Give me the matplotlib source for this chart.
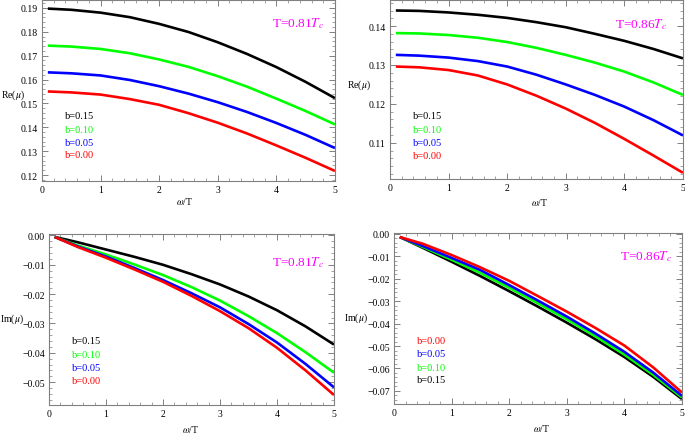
import numpy as np
import matplotlib
matplotlib.use("Agg")
import matplotlib.pyplot as plt
from matplotlib.ticker import MultipleLocator, FuncFormatter

plt.rcParams['font.family'] = ['Liberation Serif', 'DejaVu Serif']
plt.rcParams['mathtext.fontset'] = 'stix'

# omega/T sample points
w = [0.1, 0.5, 1.0, 1.5, 2.0, 2.5, 3.0, 3.5, 4.0, 4.5, 5.0]

b_labels = ["b=0.15", "b=0.10", "b=0.05", "b=0.00"]
colors = ["black", "#00ff00", "#0000ff", "#ff0000"]

# Re(mu), T = 0.81 Tc  (b = 0.15, 0.10, 0.05, 0.00)
re_081 = [
    [0.1897, 0.1892, 0.1880, 0.1861, 0.1833, 0.1799, 0.1756, 0.1707, 0.1652, 0.1590, 0.1522],
    [0.1742, 0.1738, 0.1728, 0.1710, 0.1684, 0.1653, 0.1614, 0.1570, 0.1520, 0.1468, 0.1412],
    [0.1630, 0.1626, 0.1617, 0.1598, 0.1572, 0.1541, 0.1505, 0.1464, 0.1418, 0.1368, 0.1313],
    [0.1550, 0.1546, 0.1537, 0.1518, 0.1494, 0.1459, 0.1419, 0.1374, 0.1324, 0.1272, 0.1217],
]

# Re(mu), T = 0.86 Tc
re_086 = [
    [0.1440, 0.1439, 0.1435, 0.1429, 0.1421, 0.1410, 0.1397, 0.1380, 0.1362, 0.1341, 0.1317],
    [0.1382, 0.1381, 0.1377, 0.1370, 0.1359, 0.1344, 0.1326, 0.1306, 0.1283, 0.1255, 0.1223],
    [0.1326, 0.1324, 0.1319, 0.1310, 0.1296, 0.1275, 0.1250, 0.1223, 0.1193, 0.1158, 0.1119],
    [0.1296, 0.1294, 0.1287, 0.1273, 0.1250, 0.1221, 0.1188, 0.1151, 0.1110, 0.1067, 0.1023],
]

# Im(mu), T = 0.81 Tc
im_081 = [
    [-0.0005, -0.0023, -0.0048, -0.0073, -0.0100, -0.0132, -0.0167, -0.0208, -0.0255, -0.0310, -0.0372],
    [-0.0005, -0.0034, -0.0065, -0.0099, -0.0135, -0.0176, -0.0222, -0.0275, -0.0333, -0.0398, -0.0468],
    [-0.0005, -0.0037, -0.0072, -0.0111, -0.0152, -0.0197, -0.0245, -0.0302, -0.0365, -0.0438, -0.0518],
    [-0.0005, -0.0039, -0.0076, -0.0116, -0.0158, -0.0206, -0.0258, -0.0316, -0.0383, -0.0460, -0.0544],
]

# Im(mu), T = 0.86 Tc
im_086 = [
    [-0.0015, -0.0063, -0.0125, -0.0189, -0.0256, -0.0325, -0.0396, -0.0470, -0.0549, -0.0637, -0.0736],
    [-0.0015, -0.0059, -0.0116, -0.0175, -0.0241, -0.0310, -0.0381, -0.0457, -0.0538, -0.0628, -0.0729],
    [-0.0015, -0.0055, -0.0108, -0.0162, -0.0229, -0.0298, -0.0369, -0.0445, -0.0526, -0.0618, -0.0722],
    [-0.0015, -0.0045, -0.0095, -0.0150, -0.0210, -0.0278, -0.0347, -0.0420, -0.0498, -0.0595, -0.0707],
]

fig = plt.figure(figsize=(6.85, 4.35), dpi=100)

panels = [
    # rect, data, ylim, ylabel, temperature text, legend order, legend y,
    # temperature text pos, ylabel pos, xlabel pos
    ([0.0613, 0.5816, 0.4277, 0.4161], re_081, (0.1175, 0.1933), r"Re($\mu$)",
     r"T=0.81$T_c$", [0, 1, 2, 3], [0.36, 0.287, 0.215, 0.144], (0.873, 0.873),
     (-0.099, 0.48), (0.488, -0.11)),
    ([0.5693, 0.5862, 0.4277, 0.4115], re_086, (0.1007, 0.1467), r"Re($\mu$)",
     r"T=0.86$T_c$", [0, 1, 2, 3], [0.352, 0.279, 0.205, 0.134], (0.857, 0.87),
     (-0.106, 0.53), (0.51, -0.123)),
    ([0.0715, 0.0667, 0.4161, 0.3931], im_081, (-0.0578, 0.0005), r"Im($\mu$)",
     r"T=0.81$T_c$", [0, 1, 2, 3], [0.376, 0.298, 0.220, 0.141], (0.874, 0.836),
     (-0.13, 0.51), (0.497, -0.135)),
    ([0.5752, 0.0690, 0.4204, 0.3931], im_086, (-0.0758, 0.0003), r"Im($\mu$)",
     r"T=0.86$T_c$", [3, 2, 1, 0], [0.374, 0.296, 0.211, 0.142], (0.875, 0.867),
     (-0.132, 0.51), (0.513, -0.135)),
]

frame_col = "#808080"


def fmt_y(v, pos):
    s = f"{v:.2f}"
    if s == "-0.00":
        s = "0.00"
    return s.replace("-", "\u2212")


for rect, data, ylim, ylab, tlab, order, leg_y, tpos, ylpos, xlpos in panels:
    ax = fig.add_axes(rect)
    for series, c in zip(data, colors):
        ax.plot(w, series, color=c, lw=1.9, solid_capstyle="butt")
    ax.set_xlim(0, 5)
    ax.set_ylim(*ylim)
    ax.xaxis.set_major_locator(MultipleLocator(1))
    ax.xaxis.set_minor_locator(MultipleLocator(0.2))
    ax.yaxis.set_major_locator(MultipleLocator(0.01))
    ax.yaxis.set_minor_locator(MultipleLocator(0.002))
    ax.yaxis.set_major_formatter(FuncFormatter(fmt_y))
    ax.tick_params(which="both", direction="in", top=True, right=True,
                   color=frame_col, labelsize=7, pad=3)
    ax.tick_params(which="major", length=4, width=0.7)
    ax.tick_params(which="minor", length=2, width=0.5)
    for s in ax.spines.values():
        s.set_color(frame_col)
        s.set_linewidth(0.8)
    ax.set_xlabel(r"$\omega$/T", fontsize=7, va="center")
    ax.xaxis.set_label_coords(*xlpos)
    ax.set_ylabel(ylab, fontsize=7, rotation=0, ha="center", va="center")
    ax.yaxis.set_label_coords(*ylpos)
    ax.text(tpos[0], tpos[1], tlab, transform=ax.transAxes, color="#ff00ff",
            fontsize=9.5, ha="center", va="center")
    for k, yy in zip(order, leg_y):
        ax.text(0.08, yy, b_labels[k], transform=ax.transAxes, color=colors[k],
                fontsize=7.5, ha="left", va="center")

fig.savefig("out.png", dpi=100)
